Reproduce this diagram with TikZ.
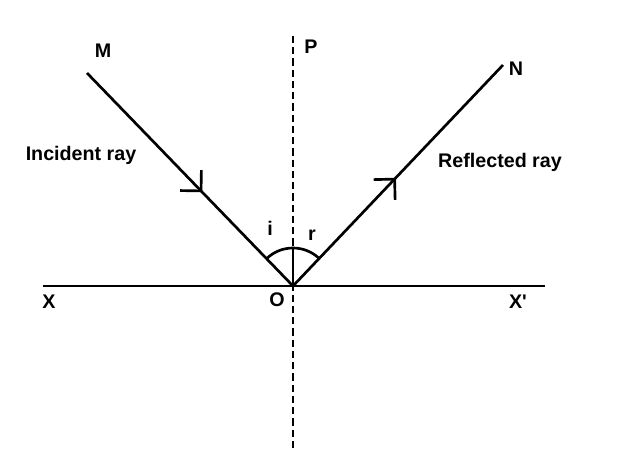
\documentclass[tikz,border=0pt]{standalone}
\usepackage{fontspec}
\setmainfont{Liberation Sans}
\usetikzlibrary{arrows.meta,decorations.markings}
\tikzset{
  ray/.style={line width=1.9pt},
  normal/.style={line width=1.9pt,dash pattern=on 5pt off 3pt},
  lbl/.style={font=\bfseries\fontsize{14}{17}\selectfont,inner sep=0pt},
  midarrow/.style={postaction={decorate},
    decoration={markings,mark=at position #1 with
      {\arrow{Straight Barb[length=10.5pt,width=21pt]}}}}
}
\begin{document}
\begin{tikzpicture}[x=0.025cm,y=0.025cm]
  \useasboundingbox (0,0) rectangle (639,456);

  % points
  \coordinate (O) at (293,170);
  \coordinate (M) at (87,383);
  \coordinate (N) at (503,391);
  \coordinate (Ptop) at (293,420);
  \coordinate (Pbot) at (293,6);
  \coordinate (Xl) at (43,170);
  \coordinate (Xr) at (545,170);

  % mirror and normal
  \draw[ray] (Xl) -- (Xr);
  \draw[normal] (Ptop) -- (Pbot);
  \draw[ray] (O) -- ++(0,38);

  % rays
  \draw[ray,midarrow=0.56] (M) -- (O);
  \draw[ray,midarrow=0.49] (O) -- (N);

  % angles
  \draw[ray] (O) ++(46.5:38) arc[start angle=46.5,end angle=134,radius=38];

  % labels
  \node[lbl] (lM) at (103,405) {M};
  \node[lbl] (lP) at (311,409) {P};
  \node[lbl] (lN) at (516,387) {N};
  \node[lbl] (lInc) at (81,301) {Incident ray};
  \node[lbl] (lRef) at (500,294) {Reflected ray};
  \node[lbl] (li) at (270,228) {i};
  \node[lbl] (lr) at (312,221) {r};
  \node[lbl] (lO) at (277,156) {O};
  \node[lbl] (lX) at (49,154) {X};
  \node[lbl] (lXr) at (518,154) {X\textquotesingle};
\end{tikzpicture}
\end{document}
